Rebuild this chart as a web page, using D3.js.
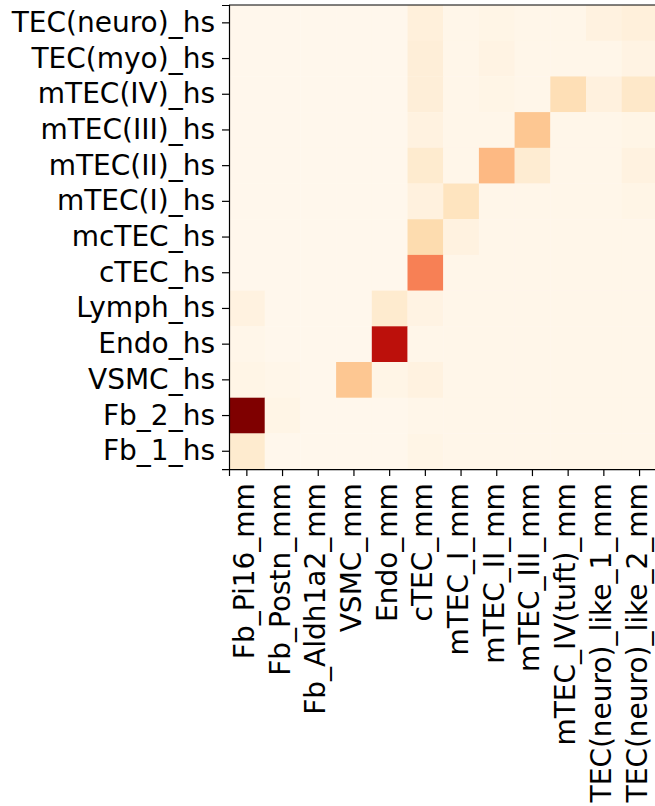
<!DOCTYPE html>
<html>
<head>
<meta charset="utf-8">
<script src="https://cdn.jsdelivr.net/npm/d3@7"></script>
<style>
  body { margin: 0; background: #fff; }
  svg { display: block; }
  text { font-family: "DejaVu Sans", sans-serif; }
</style>
</head>
<body>
<svg width="655" height="806"></svg>
<script>
const rows = ["TEC(neuro)_hs", "TEC(myo)_hs", "mTEC(IV)_hs", "mTEC(III)_hs", "mTEC(II)_hs",
              "mTEC(I)_hs", "mcTEC_hs", "cTEC_hs", "Lymph_hs", "Endo_hs", "VSMC_hs", "Fb_2_hs", "Fb_1_hs"];
const cols = ["Fb_Pi16_mm", "Fb_Postn_mm", "Fb_Aldh1a2_mm", "VSMC_mm", "Endo_mm", "cTEC_mm",
              "mTEC_I_mm", "mTEC_II_mm", "mTEC_III_mm", "mTEC_IV(tuft)_mm",
              "TEC(neuro)_like_1_mm", "TEC(neuro)_like_2_mm"];

// one array per row, same order as cols
const vTECneuro = [0, 0, 0, 0, 0, 0.06, 0.01, 0.02, 0.01, 0.01, 0.04, 0.06];
const vTECmyo   = [0, 0, 0, 0, 0, 0.07, 0.01, 0.03, 0.01, 0.01, 0.01, 0.03];
const vmTECIV   = [0, 0, 0, 0, 0, 0.07, 0.01, 0.02, 0.01, 0.18, 0.05, 0.12];
const vmTECIII  = [0, 0, 0, 0, 0, 0.04, 0.01, 0.01, 0.31, 0.01, 0.01, 0.02];
const vmTECII   = [0, 0, 0, 0, 0, 0.10, 0.01, 0.37, 0.09, 0.01, 0.01, 0.04];
const vmTECI    = [0, 0, 0, 0, 0, 0.05, 0.15, 0.01, 0.01, 0.01, 0.01, 0.02];
const vmcTEC    = [0, 0, 0, 0, 0, 0.20, 0.04, 0.01, 0.01, 0.01, 0.01, 0.01];
const vcTEC     = [0, 0, 0, 0, 0, 0.54, 0.01, 0.01, 0.01, 0.01, 0.01, 0.01];
const vLymph    = [0.04, 0, 0, 0, 0.10, 0.03, 0.01, 0.01, 0.01, 0.01, 0.01, 0.01];
const vEndo     = [0.01, 0, 0, 0, 0.84, 0.01, 0.01, 0.01, 0.01, 0.01, 0.01, 0.01];
const vVSMC     = [0.02, 0.01, 0, 0.31, 0.02, 0.04, 0.01, 0.01, 0.01, 0.01, 0.01, 0.01];
const vFb2      = [1.00, 0.02, 0, 0, 0, 0.01, 0.01, 0.01, 0.01, 0.01, 0.01, 0.01];
const vFb1      = [0.10, 0, 0, 0, 0, 0.02, 0.01, 0.01, 0.01, 0.01, 0.01, 0.01];

const values = [vTECneuro, vTECmyo, vmTECIV, vmTECIII, vmTECII, vmTECI, vmcTEC,
                vcTEC, vLymph, vEndo, vVSMC, vFb2, vFb1];

const cells = [];
rows.forEach((r, i) => cols.forEach((c, j) => cells.push({ r, c, v: values[i][j] })));

const svg = d3.select("svg");
const plotLeft = 229, plotTop = 5, cell = 35.7;
const plotBottom = plotTop + rows.length * cell;
const plotRight = plotLeft + cols.length * cell;

const x = d3.scaleBand().domain(cols).range([plotLeft, plotRight]);
const y = d3.scaleBand().domain(rows).range([plotTop, plotBottom]);
const color = d3.scaleSequential(d3.interpolateOrRd).domain([0, 1]);

svg.append("g").selectAll("rect")
  .data(cells)
  .join("rect")
  .attr("x", d => x(d.c))
  .attr("y", d => y(d.r))
  .attr("width", x.bandwidth() + 0.3)
  .attr("height", y.bandwidth() + 0.3)
  .attr("fill", d => color(d.v));

// top spine
svg.append("line").attr("x1", plotLeft).attr("x2", plotRight).attr("y1", plotTop).attr("y2", plotTop)
  .attr("stroke", "#000").attr("stroke-width", 1.2);

const yAxis = svg.append("g")
  .attr("transform", `translate(${plotLeft},0)`)
  .call(d3.axisLeft(y).tickSize(7).tickPadding(7));
const xAxis = svg.append("g")
  .attr("transform", `translate(0,${plotBottom})`)
  .call(d3.axisBottom(x).tickSize(7).tickPadding(7));

[xAxis, yAxis].forEach(a => {
  a.select(".domain").attr("stroke-width", 1.2);
  a.selectAll(".tick line").attr("stroke-width", 1.2);
  a.selectAll("text").style("font-size", "28px").attr("fill", "#000");
});

xAxis.selectAll("text")
  .attr("transform", "rotate(-90)")
  .attr("x", -14)
  .attr("y", 0)
  .attr("dy", "0.25em")
  .style("text-anchor", "end");
</script>
</body>
</html>
